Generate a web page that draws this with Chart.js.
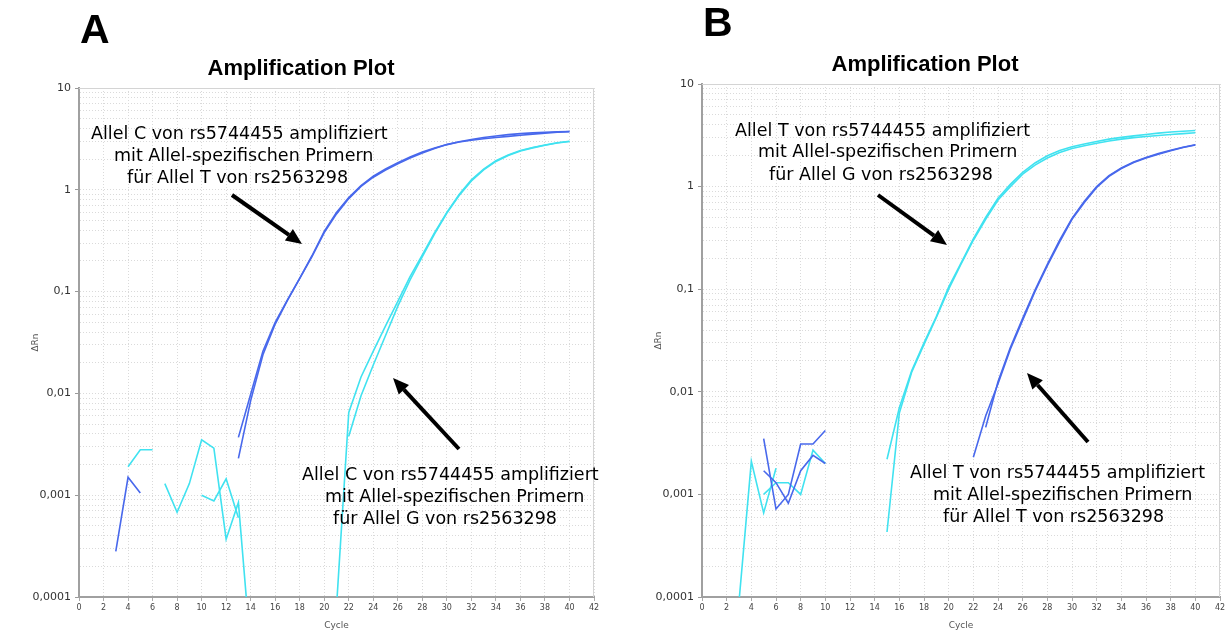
<!DOCTYPE html>
<html><head><meta charset="utf-8">
<script src="https://cdn.jsdelivr.net/npm/chart.js@4.4.1/dist/chart.umd.min.js"></script>
<style>
html,body{margin:0;padding:0;background:#fff;}
body{width:1230px;height:634px;position:relative;overflow:hidden;}
.panel{position:absolute;top:0;width:600px;height:634px;}
canvas{display:block;}
</style></head><body>
<div class="panel" style="left:8px"><canvas id="chartA" width="600" height="634"></canvas></div>
<div class="panel" style="left:630px"><canvas id="chartB" width="600" height="634"></canvas></div>
<script>
const N = null;
const cycles = [1,2,3,4,5,6,7,8,9,10,11,12,13,14,15,16,17,18,19,20,21,22,23,24,25,26,27,28,29,30,31,32,33,34,35,36,37,38,39,40];
const xTickValues = [0,2,4,6,8,10,12,14,16,18,20,22,24,26,28,30,32,34,36,38,40,42];
const yMajorValues = [0.0001,0.001,0.01,0.1,1,10];
const yTickLabels = ['0,0001','0,001','0,01','0,1','1','10'];

// Panel A
const leftBlueA = [N,N,N,N,N,N,N,N,N,N,N,N,0.0037,0.0098,0.026,0.05,0.083,0.135,0.22,0.38,0.58,0.82,1.08,1.33,1.56,1.8,2.05,2.3,2.55,2.78,2.97,3.12,3.27,3.38,3.48,3.56,3.62,3.67,3.71,3.74];
const leftBlueB = [N,N,0.00028,0.0015,0.00105,N,N,N,N,N,N,N,0.0023,0.0085,0.024,0.048,0.082,0.135,0.225,0.39,0.6,0.84,1.1,1.36,1.6,1.85,2.1,2.35,2.58,2.78,2.95,3.07,3.17,3.26,3.35,3.44,3.52,3.6,3.67,3.73];
const leftCyanA = [N,N,N,N,N,N,0.0013,0.00068,0.0013,0.0035,0.0029,0.00037,0.00085,0.00003,N,N,N,N,N,N,0.00008,0.0065,0.0145,0.026,0.046,0.08,0.14,0.23,0.38,0.6,0.9,1.25,1.6,1.93,2.2,2.43,2.6,2.76,2.9,3.0];
const leftCyanB = [N,N,N,0.0019,0.0028,0.0028,N,N,N,0.001,0.00088,0.00145,0.0006,N,N,N,N,N,N,N,N,0.0038,0.0095,0.019,0.037,0.072,0.13,0.22,0.37,0.59,0.88,1.22,1.57,1.9,2.17,2.4,2.58,2.74,2.88,2.98];

// Panel B
const rightCyanA = [N,N,0.00009,0.0021,0.00066,0.0018,N,N,N,N,N,N,N,N,0.0022,0.007,0.016,0.03,0.054,0.105,0.18,0.31,0.5,0.77,1.05,1.38,1.7,2.0,2.25,2.45,2.6,2.75,2.9,3.02,3.12,3.22,3.32,3.4,3.46,3.52];
const rightCyanB = [N,N,N,N,0.001,0.0013,0.0013,0.001,0.0027,0.002,N,N,N,N,0.00043,0.0062,0.0155,0.029,0.053,0.1,0.175,0.3,0.48,0.74,1.0,1.32,1.62,1.9,2.15,2.35,2.5,2.65,2.78,2.9,3.0,3.08,3.15,3.22,3.28,3.35];
const rightBlueA = [N,N,N,N,0.0035,0.00072,0.001,0.0031,0.0031,0.0042,N,N,N,N,N,N,N,N,N,N,N,0.0023,0.0058,0.012,0.026,0.05,0.095,0.17,0.29,0.48,0.7,0.98,1.26,1.5,1.72,1.9,2.07,2.24,2.4,2.54];
const rightBlueB = [N,N,N,N,0.0017,0.0013,0.00082,0.0017,0.0024,0.002,N,N,N,N,N,N,N,N,N,N,N,N,0.0045,0.0125,0.027,0.052,0.098,0.175,0.3,0.49,0.72,1.0,1.28,1.52,1.74,1.92,2.1,2.26,2.42,2.56];

const BLUE = 'rgb(72,104,236)';
const CYAN = 'rgb(64,226,240)';

function isMajor(v){ return yMajorValues.some(m => Math.abs(v/m - 1) < 1e-6); }
function majorLabel(v){ const i = yMajorValues.findIndex(m => Math.abs(v/m - 1) < 1e-6); return i >= 0 ? yTickLabels[i] : ''; }

function series(arr, color){
  return { data: cycles.map((c,i)=>({x:c, y:arr[i]})), borderColor: color, borderWidth: 1.6,
           pointRadius: 0, tension: 0, spanGaps: false, fill: false };
}

const annotPlugin = {
  id: 'annot',
  beforeDatasetsDraw(chart){
    const {ctx, chartArea:a} = chart;
    ctx.save();
    ctx.strokeStyle = '#d4d4d4'; ctx.lineWidth = 1;
    ctx.beginPath();
    ctx.moveTo(a.left, a.top + 0.5); ctx.lineTo(a.right - 0.5, a.top + 0.5); ctx.lineTo(a.right - 0.5, a.bottom);
    ctx.stroke();
    ctx.restore();
  },
  afterDraw(chart, args, o){
    const ctx = chart.ctx; const ox = o.offsetX;
    ctx.save();
    ctx.fillStyle = '#000';
    ctx.font = 'bold 41px "Liberation Sans", Arial, sans-serif';
    ctx.textBaseline = 'alphabetic'; ctx.textAlign = 'left';
    ctx.fillText(o.letter.text, o.letter.x - ox, o.letter.y);
    ctx.font = '17.5px "DejaVu Sans", sans-serif';
    o.texts.forEach(t => ctx.fillText(t.text, t.x - ox, t.y));
    ctx.strokeStyle = '#000'; ctx.lineWidth = 4; ctx.lineCap = 'butt';
    o.arrows.forEach(ar => {
      const x1 = ar.x1 - ox, y1 = ar.y1, x2 = ar.x2 - ox, y2 = ar.y2;
      const ang = Math.atan2(y2 - y1, x2 - x1);
      const hl = 16, hw = 7;
      const bx = x2 - hl*Math.cos(ang), by = y2 - hl*Math.sin(ang);
      ctx.beginPath(); ctx.moveTo(x1, y1); ctx.lineTo(bx, by); ctx.stroke();
      ctx.beginPath();
      ctx.moveTo(x2, y2);
      ctx.lineTo(bx + hw*Math.sin(ang), by - hw*Math.cos(ang));
      ctx.lineTo(bx - hw*Math.sin(ang), by + hw*Math.cos(ang));
      ctx.closePath(); ctx.fill();
    });
    ctx.restore();
  }
};

function makeChart(id, datasets, p){
  return new Chart(document.getElementById(id), {
    type: 'line',
    data: { datasets },
    plugins: [annotPlugin],
    options: {
      responsive: false, animation: false, devicePixelRatio: 1,
      layout: { padding: { left: 0, top: 0, right: p.padRight, bottom: 0 } },
      plugins: {
        legend: { display: false }, tooltip: { enabled: false },
        title: { display: true, text: 'Amplification Plot', color: '#000',
                 font: { family: '"Liberation Sans", Arial, sans-serif', size: 22, weight: 'bold', lineHeight: '25px' },
                 padding: { top: p.titleTop, bottom: 7 } },
        annot: p.annot
      },
      scales: {
        x: {
          type: 'linear', min: 0, max: 42,
          afterBuildTicks: s => { s.ticks = xTickValues.map(v => ({value: v})); },
          afterFit: s => { s.height = 37; },
          ticks: { autoSkip: false, maxRotation: 0, padding: 2, color: '#444',
                   font: { family: '"DejaVu Sans", sans-serif', size: 8 } },
          grid: { color: '#dadada', lineWidth: 1, tickLength: 4, tickColor: '#aaa', tickWidth: 1 },
          border: { display: true, color: '#a0a0a0', width: 2, dash: [1, 2] },
          title: { display: true, text: 'Cycle', color: '#555',
                   font: { family: '"DejaVu Sans", sans-serif', size: 9 }, padding: { top: 0, bottom: 3 } }
        },
        y: {
          type: 'logarithmic', min: 0.0001, max: 10,
          afterBuildTicks: s => {
            const t = [];
            yMajorValues.forEach((m, i) => {
              if (i < yMajorValues.length - 1) { for (let k = 1; k < 10; k++) t.push({value: m * k}); }
              else t.push({value: m});
            });
            s.ticks = t;
          },
          afterFit: s => { s.width = p.yWidth; },
          ticks: { autoSkip: false, padding: 4, color: '#333',
                   font: { family: '"DejaVu Sans", sans-serif', size: 11 },
                   callback: v => majorLabel(v) },
          grid: { color: '#dadada', lineWidth: 1, tickLength: 4, tickWidth: 1,
                  tickColor: c => (c.tick && isMajor(c.tick.value)) ? '#999' : 'rgba(0,0,0,0)' },
          border: { display: true, color: '#a0a0a0', width: 2, dash: [1, 2] },
          title: { display: true, text: 'ΔRn', color: '#555',
                   font: { family: '"DejaVu Sans", sans-serif', size: 9 }, padding: { top: p.yTitlePad, bottom: 0 } }
        }
      }
    }
  });
}

makeChart('chartA', [
  series(leftCyanA, CYAN), series(leftCyanB, CYAN),
  series(leftBlueA, BLUE), series(leftBlueB, BLUE)
], {
  padRight: 14, titleTop: 56, yWidth: 71, yTitlePad: 22,
  annot: {
    offsetX: 8,
    letter: { text: 'A', x: 80, y: 43 },
    texts: [
      { text: 'Allel C von rs5744455 amplifiziert', x: 91, y: 139 },
      { text: 'mit Allel-spezifischen Primern', x: 114, y: 161 },
      { text: 'für Allel T von rs2563298', x: 127, y: 183 },
      { text: 'Allel C von rs5744455 amplifiziert', x: 302, y: 480 },
      { text: 'mit Allel-spezifischen Primern', x: 325, y: 502 },
      { text: 'für Allel G von rs2563298', x: 333, y: 524 }
    ],
    arrows: [ { x1: 232, y1: 195, x2: 302, y2: 244 }, { x1: 459, y1: 449, x2: 393, y2: 378 } ]
  }
});

makeChart('chartB', [
  series(rightBlueA, BLUE), series(rightBlueB, BLUE),
  series(rightCyanA, CYAN), series(rightCyanB, CYAN)
], {
  padRight: 10, titleTop: 52, yWidth: 72, yTitlePad: 23,
  annot: {
    offsetX: 630,
    letter: { text: 'B', x: 703, y: 36 },
    texts: [
      { text: 'Allel T von rs5744455 amplifiziert', x: 735, y: 136 },
      { text: 'mit Allel-spezifischen Primern', x: 758, y: 157 },
      { text: 'für Allel G von rs2563298', x: 769, y: 180 },
      { text: 'Allel T von rs5744455 amplifiziert', x: 910, y: 478 },
      { text: 'mit Allel-spezifischen Primern', x: 933, y: 500 },
      { text: 'für Allel T von rs2563298', x: 943, y: 522 }
    ],
    arrows: [ { x1: 878, y1: 195, x2: 947, y2: 245 }, { x1: 1088, y1: 442, x2: 1027, y2: 373 } ]
  }
});
</script>
</body></html>
